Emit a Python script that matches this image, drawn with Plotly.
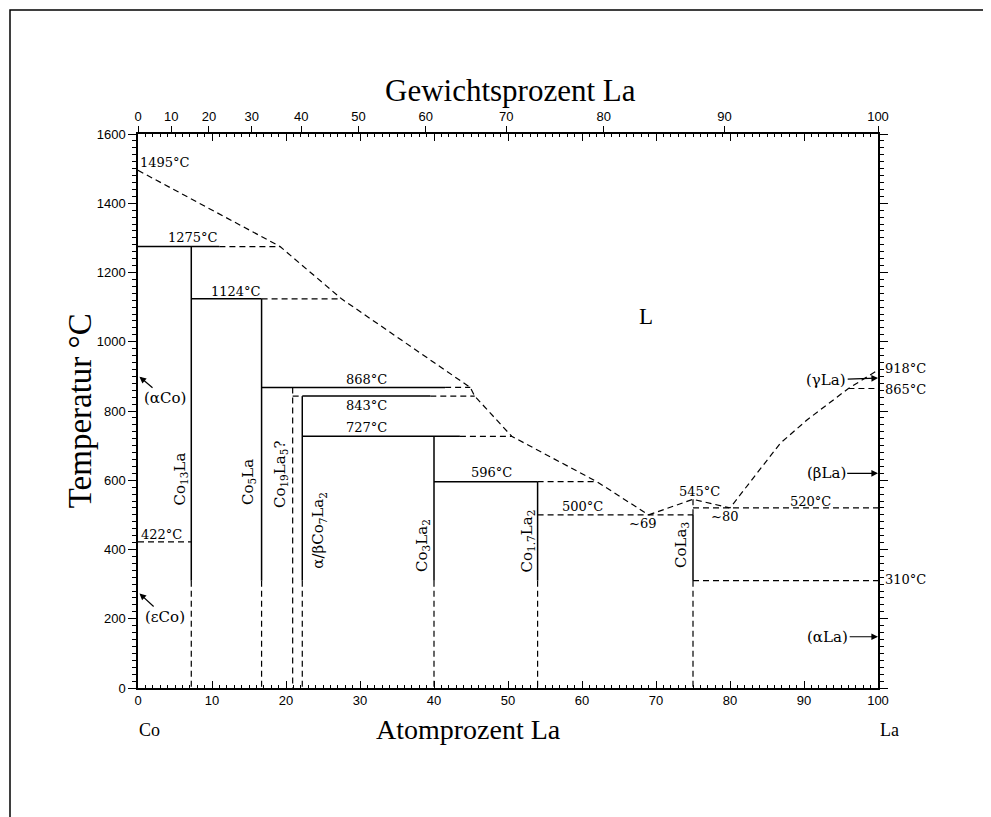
import plotly.graph_objects as go

# ---------------- data (at.% La, temperature in °C) ----------------
liq_left_x = [0, 19.2, 27.5, 44.9, 45.5, 50.5, 62.0, 69.0]
liq_left_t = [1495, 1275, 1124, 868, 843, 727, 596, 500]
liq_right_x = [69.0, 75.0, 80.0, 83.6, 86.8, 90.4, 94.0, 96.0, 100]
liq_right_t = [500, 545, 520, 620, 707, 774, 832, 865, 918]

# peritectic isotherms: solid part then dashed continuation to liquidus
inv_t = [1275, 1124, 868, 843, 727, 596]
inv_solid_from = [0, 7.2, 16.7, 22.2, 22.2, 40.0]
inv_solid_to = [11.0, 16.7, 41.5, 39.5, 43.5, 54.0]
inv_dash_to = [19.2, 27.5, 44.9, 45.5, 50.5, 62.0]

# purely dashed isotherms
dash_t = [422, 500, 520, 310, 865, 843]
dash_from = [0, 54.0, 75.0, 75.0, 96.0, 20.9]
dash_to = [7.2, 75.0, 100, 100, 100, 22.2]

# intermetallic compounds
comp_x = [7.2, 16.7, 22.2, 40.0, 54.0, 75.0]
comp_top = [1275, 1124, 843, 727, 596, 500]
comp_solid_bottom = 310
co19la5_x = 20.9
co19la5_top = 868
cola3_peak = 545

# top axis (weight %)
wt_ticks = [0, 10, 20, 30, 40, 50, 60, 70, 80, 90, 100]
M_LA, M_CO = 138.905, 58.933


def wt_to_at(w):
    if w <= 0:
        return 0.0
    if w >= 100:
        return 100.0
    a = w / M_LA
    b = (100 - w) / M_CO
    return 100 * a / (a + b)


# ---------------- build line sets ----------------
solid_x, solid_y = [], []
dashed_x, dashed_y = [], []


def seg(xs, ys, x0, y0, x1, y1):
    xs += [x0, x1, None]
    ys += [y0, y1, None]


for t, a, b, c in zip(inv_t, inv_solid_from, inv_solid_to, inv_dash_to):
    seg(solid_x, solid_y, a, t, b, t)
    seg(dashed_x, dashed_y, b, t, c, t)
for t, a, b in zip(dash_t, dash_from, dash_to):
    seg(dashed_x, dashed_y, a, t, b, t)
for x, top in zip(comp_x, comp_top):
    seg(solid_x, solid_y, x, top, x, comp_solid_bottom)
    seg(dashed_x, dashed_y, x, comp_solid_bottom, x, 0)
seg(dashed_x, dashed_y, co19la5_x, co19la5_top, co19la5_x, 0)
seg(dashed_x, dashed_y, 75.0, cola3_peak, 75.0, 500)

DASH = "6px,4px"
fig = go.Figure()
fig.add_trace(go.Scatter(x=liq_left_x, y=liq_left_t, mode="lines",
                         line=dict(color="black", width=1.2, dash=DASH),
                         hoverinfo="skip", showlegend=False))
fig.add_trace(go.Scatter(x=liq_right_x, y=liq_right_t, mode="lines",
                         line=dict(color="black", width=1.2, dash=DASH),
                         hoverinfo="skip", showlegend=False))
fig.add_trace(go.Scatter(x=dashed_x, y=dashed_y, mode="lines",
                         line=dict(color="black", width=1.2, dash=DASH),
                         hoverinfo="skip", showlegend=False))
fig.add_trace(go.Scatter(x=solid_x, y=solid_y, mode="lines",
                         line=dict(color="black", width=1.5),
                         hoverinfo="skip", showlegend=False))
# invisible trace for top axis
fig.add_trace(go.Scatter(x=[0, 100], y=[0, 0], xaxis="x2", mode="markers",
                         marker=dict(opacity=0), hoverinfo="skip", showlegend=False))

SERIF = "DejaVu Serif"
TIMES = "Liberation Serif"
ann = []

X_MAX, Y_MAX = 100.0, 1600.0


def txt(x, y, s, size=13, font=SERIF, angle=0, xanchor="center", xshift=0):
    # positions given in data units, placed via paper coordinates so that
    # labels outside the axis ranges are still drawn
    ann.append(dict(x=x / X_MAX, y=y / Y_MAX, xref="paper", yref="paper", text=s,
                    showarrow=False, textangle=angle, xanchor=xanchor,
                    yanchor="middle", xshift=xshift,
                    font=dict(family=font, size=size, color="black")))


# temperature labels
txt(3.6, 1517, "1495°C")
txt(7.4, 1300, "1275°C")
txt(13.2, 1145, "1124°C")
txt(30.9, 890, "868°C")
txt(30.9, 815, "843°C")
txt(30.9, 751, "727°C")
txt(47.8, 621, "596°C")
txt(60.0, 523, "500°C")
txt(68.2, 474, "~69")
txt(75.9, 567, "545°C")
txt(79.3, 495, "~80")
txt(90.9, 538, "520°C")
txt(3.2, 442, "422°C")
txt(100, 924, "918°C", xanchor="left", xshift=5)
txt(100, 863, "865°C", xanchor="left", xshift=5)
txt(100, 312, "310°C", xanchor="left", xshift=5)
txt(68.6, 1074, "L", size=23, font=TIMES)

# compound labels (rotated)
txt(5.7, 603, "Co<sub>13</sub>La", size=15, angle=-90)
txt(14.9, 596, "Co<sub>5</sub>La", size=15, angle=-90)
txt(19.2, 618, "Co<sub>19</sub>La<sub>5</sub>?", size=15, angle=-90)
txt(24.4, 456, "α/βCo<sub>7</sub>La<sub>2</sub>", size=15, angle=-90)
txt(38.5, 413, "Co<sub>3</sub>La<sub>2</sub>", size=15, angle=-90)
txt(52.6, 424, "Co<sub>1.7</sub>La<sub>2</sub>", size=15, angle=-90)
txt(73.5, 413, "CoLa<sub>3</sub>", size=15, angle=-90)

# element labels
txt(1.6, -122, "Co", size=18, font=TIMES)
txt(101.6, -122, "La", size=18, font=TIMES)

# axis titles
txt(44.7, -121, "Atomprozent La", size=28, font=TIMES)
txt(50.4, 1727, "Gewichtsprozent La", size=31, font=TIMES)
txt(-7.8, 800, "Temperatur °C", size=33, font=TIMES, angle=-90)


def arrow(xt, yt, xtext, ytext, s):
    ann.append(dict(x=xt, y=yt, xref="x", yref="y", ax=xtext, ay=ytext,
                    axref="x", ayref="y", text=s, showarrow=True,
                    arrowhead=2, arrowsize=1.1, arrowwidth=1.2, arrowcolor="black",
                    font=dict(family=SERIF, size=15, color="black")))


arrow(0.2, 899, 3.65, 837, "(αCo)")
arrow(0.2, 273, 3.65, 205, "(εCo)")
arrow(100, 895, 93.0, 890, "(γLa)")
arrow(100, 620, 93.0, 620, "(βLa)")
arrow(100, 148, 93.2, 148, "(αLa)")

# figure geometry (page has an 8px body margin)
W, H = 983, 809
ML, MR, MT, MB = 130, 113, 126, 129
PW, PH = W - ML - MR, H - MT - MB

# outer frame
shapes = [dict(type="rect", xref="paper", yref="paper",
               x0=(2 - ML) / PW, x1=(W + 20 - ML) / PW,
               y0=-(MB + 20) / PH, y1=(PH + MT - 2) / PH,
               line=dict(color="black", width=1.5), fillcolor="rgba(0,0,0,0)")]

fig.update_layout(
    width=W, height=H,
    margin=dict(l=ML, r=MR, t=MT, b=MB),
    paper_bgcolor="white", plot_bgcolor="white",
    showlegend=False,
    annotations=ann, shapes=shapes,
    xaxis=dict(range=[0, 100], tickvals=[0, 10, 20, 30, 40, 50, 60, 70, 80, 90, 100],
               ticks="inside", ticklen=7, tickwidth=1.2, tickcolor="black",
               minor=dict(dtick=1, ticks="inside", ticklen=3.5, tickcolor="black", tickwidth=1),
               showline=True, linecolor="black", linewidth=1.5, mirror="ticks",
               showgrid=False, zeroline=False,
               tickfont=dict(family="Liberation Sans", size=13, color="black")),
    xaxis2=dict(range=[0, 100], overlaying="x", side="top",
                tickvals=[wt_to_at(w) for w in wt_ticks],
                ticktext=[str(w) for w in wt_ticks],
                ticks="outside", ticklen=7, tickwidth=1.2, tickcolor="black",
                showline=False, showgrid=False, zeroline=False,
                tickfont=dict(family="Liberation Sans Narrow, Liberation Sans", size=13, color="black")),
    yaxis=dict(range=[0, 1600], dtick=200,
               ticks="outside", ticklen=8, tickwidth=1.2, tickcolor="black",
               minor=dict(dtick=20, ticks="outside", ticklen=4, tickcolor="black", tickwidth=1),
               showline=True, linecolor="black", linewidth=1.5, mirror="ticks",
               showgrid=False, zeroline=False,
               tickfont=dict(family="Liberation Sans", size=13, color="black")),
)

fig.write_html("out.html")
